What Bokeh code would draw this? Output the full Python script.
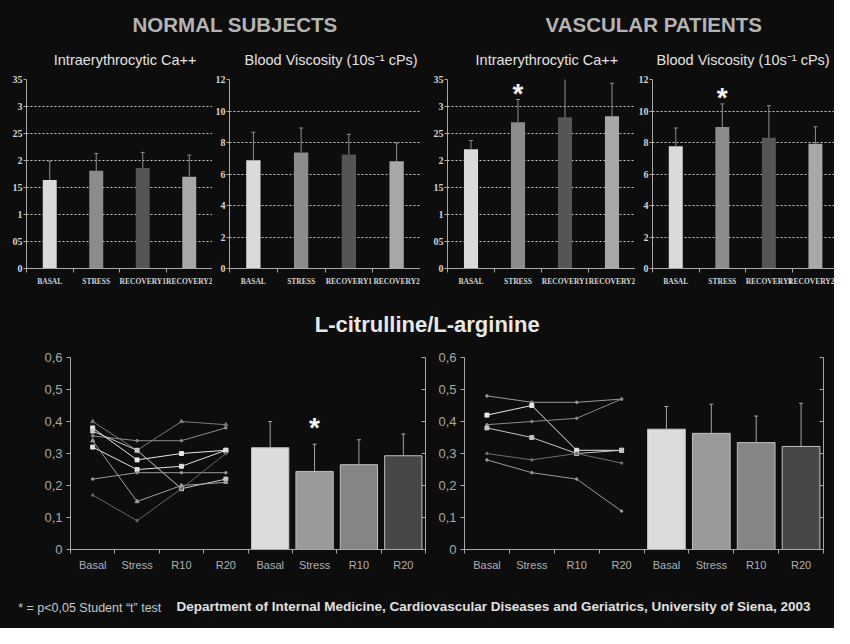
import numpy as np
from bokeh.plotting import figure
from bokeh.models import Range1d, FixedTicker, Label, LinearAxis, ColumnDataSource
from bokeh.layouts import column, row
from bokeh.embed import file_html
from bokeh.resources import INLINE
from bokeh.core.properties import value

# ---------------- data ----------------
top_categories = ["BASAL", "STRESS", "RECOVERY1", "RECOVERY2"]
ca_ticks = [0, 0.5, 1, 1.5, 2, 2.5, 3, 3.5]
ca_tick_labels = ["0", "05", "1", "15", "2", "25", "3", "35"]
visc_ticks = [0, 2, 4, 6, 8, 10, 12]
visc_tick_labels = ["0", "2", "4", "6", "8", "10", "12"]

normal_ca_mean = [1.64, 1.81, 1.86, 1.70]
normal_ca_err = [0.35, 0.32, 0.29, 0.40]
normal_ca_sig = [False, False, False, False]
normal_visc_mean = [6.87, 7.37, 7.24, 6.81]
normal_visc_err = [1.78, 1.55, 1.28, 1.16]
normal_visc_sig = [False, False, False, False]
vasc_ca_mean = [2.21, 2.71, 2.80, 2.82]
vasc_ca_err = [0.16, 0.42, 0.72, 0.61]
vasc_ca_sig = [False, True, False, False]
vasc_visc_mean = [7.76, 8.98, 8.30, 7.92]
vasc_visc_err = [1.16, 1.47, 2.04, 1.08]
vasc_visc_sig = [False, True, False, False]

bottom_categories = ["Basal", "Stress", "R10", "R20"]
ratio_ticks = [0, 0.1, 0.2, 0.3, 0.4, 0.5, 0.6]
ratio_tick_labels = ["0", "0,1", "0,2", "0,3", "0,4", "0,5", "0,6"]

normal_subject_lines = [
    [0.40, 0.31, 0.40, 0.39],
    [0.355, 0.34, 0.34, 0.38],
    [0.38, 0.28, 0.30, 0.31],
    [0.37, 0.31, 0.19, 0.22],
    [0.32, 0.25, 0.26, 0.31],
    [0.22, 0.24, 0.24, 0.24],
    [0.34, 0.15, 0.20, 0.21],
    [0.17, 0.09, 0.19, 0.30],
]
vasc_patient_lines = [
    [0.48, 0.46, 0.46, 0.47],
    [0.42, 0.45, 0.31, 0.31],
    [0.39, 0.40, 0.41, 0.47],
    [0.38, 0.35, 0.30, 0.31],
    [0.30, 0.28, 0.30, 0.27],
    [0.28, 0.24, 0.22, 0.12],
]
normal_ratio_mean = [0.318, 0.244, 0.265, 0.293]
normal_ratio_err = [0.082, 0.085, 0.078, 0.068]
normal_ratio_sig = [False, True, False, False]
vasc_ratio_mean = [0.376, 0.363, 0.334, 0.322]
vasc_ratio_err = [0.071, 0.091, 0.083, 0.135]
vasc_ratio_sig = [False, False, False, False]

# ---------------- styles ----------------
BG = "#0d0d0d"
AXIS = "#a8a8a8"
top_bar_colors = ["#dadada", "#8c8c8c", "#555555", "#a8a8a8"]
bottom_bar_colors = ["#dcdcdc", "#9a9a9a", "#858585", "#474747"]
normal_line_colors = ["#7a7a7a", "#8c8c8c", "#e8e8e8", "#c8c8c8", "#e0e0e0", "#9a9a9a", "#a0a0a0", "#666666"]
normal_line_markers = ["triangle", "circle", "square", "square", "square", "circle", "triangle", "circle"]
vasc_line_colors = ["#9a9a9a", "#e8e8e8", "#8a8a8a", "#c4c4c4", "#707070", "#9a9a9a"]
vasc_line_markers = ["circle", "square", "circle", "square", "circle", "circle"]
BGSTYLE = {"background-color": BG}


def key(t):
    return int(t) if float(t).is_integer() else t


def base_fig(w, h, xr, yr, left, right, top, bottom):
    p = figure(width=w, height=h, x_range=xr, y_range=yr, output_backend="svg",
               toolbar_location=None, min_border_left=left, min_border_right=right,
               min_border_top=top, min_border_bottom=bottom, styles=BGSTYLE,
               background_fill_color=BG, border_fill_color=BG, outline_line_color=None)
    return p


def top_plot(w, left, xmax, ymax, ticks, labels, means, errs, sig):
    p = base_fig(w, 230, Range1d(0, xmax), Range1d(0, ymax), left, 0, 11, 30)
    n = len(top_categories)
    xs = np.arange(n) + 0.5
    means = np.array(means)
    tops = means + np.array(errs)
    src = ColumnDataSource(dict(x=xs, m=means, t=tops, c=top_bar_colors))
    p.vbar(x="x", top="m", width=0.3, fill_color="c", line_color=None, source=src)
    p.segment(x0="x", y0="m", x1="x", y1="t", line_color="#8e8e8e", line_width=1, source=src)
    p.scatter(x="x", y="t", marker="dash", size=4, line_color="#8e8e8e", source=src)
    sx = [x for x, s in zip(xs, sig) if s]
    sy = [t for t, s in zip(tops, sig) if s]
    if sx:
        p.text(x=sx, y=sy, text=["*"] * len(sx), text_align="center", text_baseline="middle",
               y_offset=-6, text_color="#f2f2f2", text_font=value("Liberation Sans"),
               text_font_style="bold", text_font_size="28px")
    # axes
    p.yaxis.ticker = FixedTicker(ticks=ticks)
    p.yaxis.major_label_overrides = {key(t): l for t, l in zip(ticks, labels)}
    p.yaxis.minor_tick_line_color = None
    p.yaxis.major_tick_out = 3
    p.yaxis.major_tick_in = 0
    p.yaxis.major_label_standoff = 1
    p.yaxis.major_label_text_font = "Liberation Serif"
    p.yaxis.major_label_text_font_style = "bold"
    p.yaxis.major_label_text_font_size = "10px"
    p.yaxis.major_label_text_color = "#d4d4d4"
    p.yaxis.axis_line_color = AXIS
    p.yaxis.major_tick_line_color = AXIS
    p.xaxis.ticker = FixedTicker(ticks=list(xs), minor_ticks=list(range(n + 1)))
    p.xaxis.major_label_overrides = {key(x): c for x, c in zip(xs, top_categories)}
    p.xaxis.major_tick_line_color = None
    p.xaxis.major_tick_out = 0
    p.xaxis.major_tick_in = 0
    p.xaxis.minor_tick_out = 4
    p.xaxis.minor_tick_in = 0
    p.xaxis.minor_tick_line_color = AXIS
    p.xaxis.axis_line_color = AXIS
    p.xaxis.major_label_standoff = 4
    p.xaxis.major_label_text_font = "Liberation Serif"
    p.xaxis.major_label_text_font_style = "bold"
    p.xaxis.major_label_text_font_size = "7.5px"
    p.xaxis.major_label_text_color = "#d4d4d4"
    p.xgrid.visible = False
    p.ygrid.grid_line_color = "#c8c8c8"
    p.ygrid.grid_line_dash = "2 2"
    return p


def bottom_plot(w, left, right, lines, lcolors, lmarkers, means, errs, sig):
    p = base_fig(w, 235, Range1d(0, 8), Range1d(0, 0.6), left, right, 12, 31)
    n = len(bottom_categories)
    lx = np.arange(n) + 0.5
    for vals, col, mk in zip(lines, lcolors, lmarkers):
        p.line(x=lx, y=vals, line_color=col, line_width=1)
        p.scatter(x=lx, y=vals, marker=mk, size=4 if mk != "circle" else 2.5,
                  fill_color=col, line_color=col)
    bx = np.arange(n) + n + 0.5
    means = np.array(means)
    tops = means + np.array(errs)
    src = ColumnDataSource(dict(x=bx, m=means, t=tops, c=bottom_bar_colors))
    p.vbar(x="x", top="m", width=0.84, fill_color="c", line_color="#c0c0c0", line_width=1, source=src)
    p.segment(x0="x", y0="m", x1="x", y1="t", line_color="#a4a4a4", line_width=1, source=src)
    p.scatter(x="x", y="t", marker="dash", size=4, line_color="#a4a4a4", source=src)
    sx = [x for x, s in zip(bx, sig) if s]
    sy = [t for t, s in zip(tops, sig) if s]
    if sx:
        p.text(x=sx, y=sy, text=["*"] * len(sx), text_align="center", text_baseline="middle",
               y_offset=-17, text_color="#f2f2f2", text_font=value("Liberation Sans"),
               text_font_style="bold", text_font_size="28px")
    p.yaxis.ticker = FixedTicker(ticks=ratio_ticks)
    p.yaxis.major_label_overrides = {key(t): l for t, l in zip(ratio_ticks, ratio_tick_labels)}
    p.yaxis.minor_tick_line_color = None
    p.yaxis.major_tick_out = 4
    p.yaxis.major_tick_in = 0
    p.yaxis.major_label_standoff = 4
    p.yaxis.major_label_text_font = "Liberation Sans"
    p.yaxis.major_label_text_font_size = "13px"
    p.yaxis.major_label_text_color = "#a8a8a8"
    p.yaxis.axis_line_color = AXIS
    p.yaxis.major_tick_line_color = AXIS
    ticks_x = list(lx) + list(bx)
    p.xaxis.ticker = FixedTicker(ticks=ticks_x, minor_ticks=list(range(2 * n + 1)))
    p.xaxis.major_label_overrides = {key(x): c for x, c in zip(ticks_x, bottom_categories * 2)}
    p.xaxis.major_tick_line_color = None
    p.xaxis.major_tick_out = 0
    p.xaxis.major_tick_in = 0
    p.xaxis.minor_tick_out = 4
    p.xaxis.minor_tick_in = 0
    p.xaxis.minor_tick_line_color = AXIS
    p.xaxis.axis_line_color = AXIS
    p.xaxis.major_label_standoff = 5
    p.xaxis.major_label_text_font = "Liberation Sans"
    p.xaxis.major_label_text_font_size = "11px"
    p.xaxis.major_label_text_color = "#b0b0b0"
    rax = LinearAxis(ticker=FixedTicker(ticks=ratio_ticks),
                     major_label_overrides={key(t): "" for t in ratio_ticks},
                     major_tick_in=4, major_tick_out=0, minor_tick_line_color=None,
                     axis_line_color=AXIS, major_tick_line_color=AXIS,
                     major_label_standoff=0, major_label_text_font_size="1px")
    p.add_layout(rax, "right")
    p.grid.visible = False
    return p


def text_fig(w, h):
    p = figure(width=w, height=h, x_range=Range1d(0, w), y_range=Range1d(0, h),
               output_backend="svg", toolbar_location=None, x_axis_type=None, y_axis_type=None,
               min_border=0, styles=BGSTYLE,
               background_fill_color=BG, border_fill_color=BG, outline_line_color=None)
    return p


def add_text(p, x, y, text, size, color, bold=False, align="center", font="Liberation Sans"):
    p.add_layout(Label(x=x, y=y, text=text, text_align=align, text_baseline="middle",
                       text_font=font, text_font_size=size, text_color=color,
                       text_font_style="bold" if bold else "normal"))


# ---------------- header ----------------
header = text_fig(834, 68)
add_text(header, 234.5, 43.6, "NORMAL SUBJECTS", "20.5px", "#b4b4b4", bold=True)
add_text(header, 653.3, 43.6, "VASCULAR PATIENTS", "20.5px", "#b4b4b4", bold=True)
add_text(header, 124.6, 8.8, "Intraerythrocytic Ca++", "14.5px", "#e2e2e2")
add_text(header, 330.6, 8.8, "Blood Viscosity (10s\u207b\u00b9 cPs)", "14.5px", "#e2e2e2")
add_text(header, 546.4, 8.8, "Intraerythrocytic Ca++", "14.5px", "#e2e2e2")
add_text(header, 742.6, 8.8, "Blood Viscosity (10s\u207b\u00b9 cPs)", "14.5px", "#e2e2e2")

# ---------------- top row ----------------
p1 = top_plot(212, 26, 4, 3.5, ca_ticks, ca_tick_labels, normal_ca_mean, normal_ca_err, normal_ca_sig)
p2 = top_plot(208, 14, 4, 12, visc_ticks, visc_tick_labels, normal_visc_mean, normal_visc_err, normal_visc_sig)
p3 = top_plot(215, 27, 4, 3.5, ca_ticks, ca_tick_labels, vasc_ca_mean, vasc_ca_err, vasc_ca_sig)
p4 = top_plot(199, 13, 3.91, 12, visc_ticks, visc_tick_labels, vasc_visc_mean, vasc_visc_err, vasc_visc_sig)

# ---------------- middle title ----------------
mid = text_fig(834, 47)
add_text(mid, 426.7, 21, "L-citrulline/L-arginine", "22px", "#e8e8e8", bold=True)

# ---------------- bottom row ----------------
b1 = bottom_plot(430, 70, 5, normal_subject_lines, normal_line_colors, normal_line_markers,
                 normal_ratio_mean, normal_ratio_err, normal_ratio_sig)
b2 = bottom_plot(404, 34, 11, vasc_patient_lines, vasc_line_colors, vasc_line_markers,
                 vasc_ratio_mean, vasc_ratio_err, vasc_ratio_sig)

# ---------------- footer ----------------
footer = text_fig(834, 48)
add_text(footer, 17.7, 20.6, "* = p<0,05 Student \u201ct\u201d test", "12.5px", "#c8c8c8", align="left")
add_text(footer, 493, 22.5,
         "Department of Internal Medicine, Cardiovascular Diseases and Geriatrics, University of Siena, 2003",
         "13.5px", "#e0e0e0", bold=True)

layout = column(header, row(p1, p2, p3, p4, spacing=0, styles=BGSTYLE), mid,
                row(b1, b2, spacing=0, styles=BGSTYLE), footer, spacing=0, styles=BGSTYLE)
open("out.html", "w").write(file_html(layout, INLINE))
